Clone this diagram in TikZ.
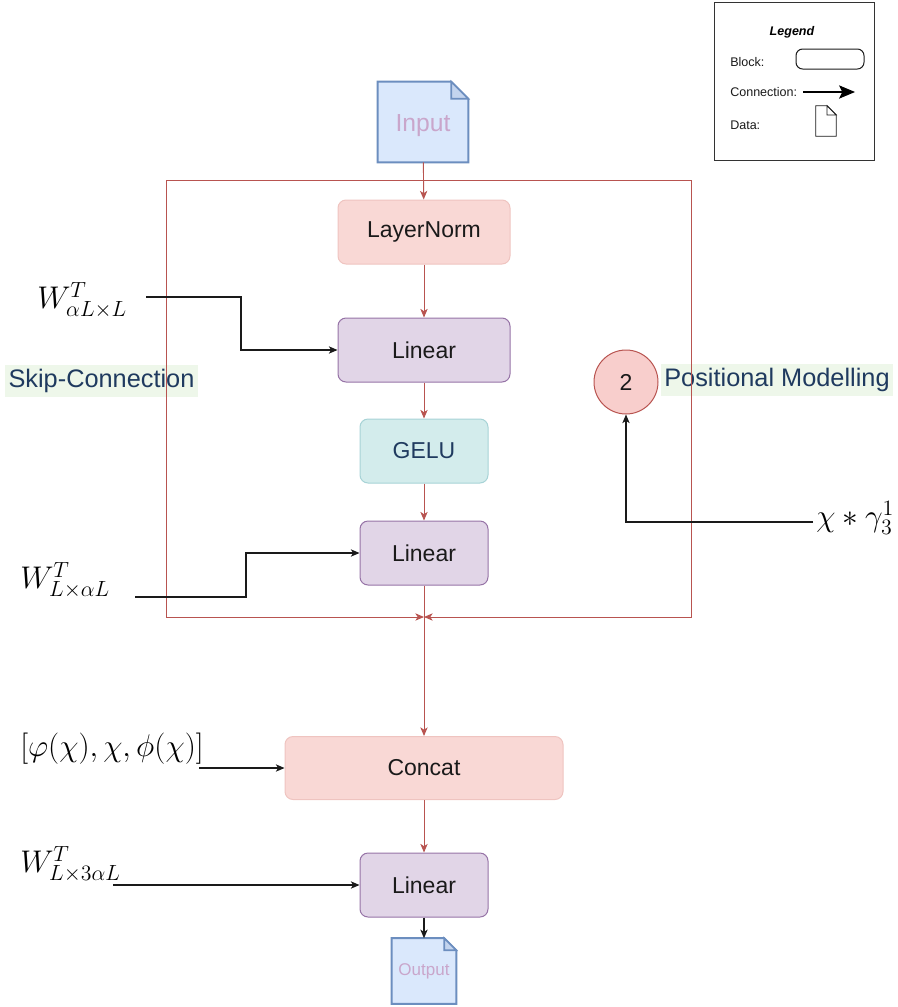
\RequirePackage{fix-cm}
\documentclass[tikz,border=0pt]{standalone}
\usepackage{fontspec}
\setmainfont{Liberation Sans}
\usepackage{tikz}
\usetikzlibrary{arrows.meta,positioning,calc,backgrounds}
\definecolor{ink}{HTML}{1A1A1A}
\definecolor{navy}{HTML}{1F3A5F}
\definecolor{accentred}{HTML}{B85450}
\definecolor{pinkbg}{HTML}{F9D8D5}
\definecolor{pinkline}{HTML}{EFC4C0}
\definecolor{lilacbg}{HTML}{E1D5E7}
\definecolor{lilacline}{HTML}{9673A6}
\definecolor{tealbg}{HTML}{D3ECEC}
\definecolor{tealline}{HTML}{A7D3D6}
\definecolor{docbg}{HTML}{DAE8FC}
\definecolor{docline}{HTML}{6C8EBF}
\definecolor{docfold}{HTML}{C3D4EE}
\definecolor{doctext}{HTML}{C9A6CB}
\definecolor{tagbg}{HTML}{EEF7EA}
\definecolor{circbg}{HTML}{F8CECC}
\definecolor{legline}{HTML}{333333}
\newcommand{\boxfont}{\fontsize{17.25}{20}\selectfont}
\newcommand{\tagfont}{\fontsize{19}{22}\selectfont}
\newcommand{\legfont}{\fontsize{9.4}{11}\selectfont}
\newcommand{\eqfont}{\fontsize{23.5}{28}\selectfont}
% page outline with a folded corner, drawn behind the node
\newcommand{\dogear}[4]{%
  \begin{scope}[on background layer]
    \draw[#3] (#1.north west) -- ([xshift=-#2]#1.north east)
      -- ([yshift=-#2]#1.north east) -- (#1.south east) -- (#1.south west) -- cycle;
    \draw[#4] ([xshift=-#2]#1.north east) -- ([xshift=-#2,yshift=-#2]#1.north east)
      -- ([yshift=-#2]#1.north east) -- cycle;
  \end{scope}}
\tikzset{
  flowbox/.style={rounded corners=6pt,line width=0.75pt,minimum height=48pt,
                  inner sep=0pt,align=center,font=\boxfont,text=ink},
  normbox/.style={flowbox,draw=pinkline,fill=pinkbg},
  linbox/.style={flowbox,draw=lilacline,fill=lilacbg},
  gelubox/.style={flowbox,draw=tealline,fill=tealbg,text=navy},
  pagenode/.style={inner sep=0pt,text=doctext},
  sidetag/.style={fill=tagbg,text=navy,font=\tagfont,inner xsep=2.5pt,
                  minimum height=24pt},
  eqlabel/.style={inner sep=0pt,font=\eqfont,anchor=west},
  legtext/.style={inner sep=0pt,font=\legfont,anchor=west,text=ink},
  redarr/.style={-{Stealth[length=6.5pt,width=5.5pt,inset=1.8pt]},
                 line width=0.7pt,draw=accentred,color=accentred},
  blkarr/.style={-{Stealth[length=6.5pt,width=5.5pt,inset=1.8pt]},
                 line width=0.8pt,draw=ink},
  legarr/.style={-{Stealth[length=12pt,width=10pt,inset=2.5pt]},line width=0.8pt}
}
\begin{document}
\begin{tikzpicture}[x=0.75pt,y=-0.75pt]
  \useasboundingbox (0,0) rectangle (897,1007);
  % legend
  \node[draw=legline,line width=0.75pt,minimum width=120pt,minimum height=119pt]
    (legend) at (794,81.5) {};
  \node[inner sep=0pt,font=\legfont\bfseries\itshape] (legtitle) at (792,32) {Legend};
  \node[legtext] (legblock) at (730,62) {Block:};
  \node[draw=ink,rounded corners=5pt,line width=0.75pt,minimum width=51pt,
        minimum height=15pt] (legbox) at (830,59) {};
  \node[legtext] (legconn) at (730,92) {Connection:};
  \coordinate (legfrom) at (803,92);
  \coordinate (legto) at (855,92);
  \draw[legarr] (legfrom) -- (legto);
  \node[legtext] (legdata) at (730,125) {Data:};
  \node[minimum width=15pt,minimum height=22.5pt,inner sep=0pt] (legpage) at (826,121) {};
  \dogear{legpage}{7pt}{draw=ink,fill=white,line width=0.6pt}{draw=ink,fill=white,line width=0.6pt}
  % data in and out
  \node[pagenode,minimum width=67.5pt,minimum height=60pt,
        label={[pagenode,yshift=-3pt,font=\fontsize{18.5}{22}\selectfont]center:Input}]
    (input) at (423,122) {};
  \dogear{input}{12.75pt}{draw=docline,fill=docbg,line width=1.5pt}{draw=docline,fill=docfold,line width=1.2pt}
  \node[pagenode,minimum width=48pt,minimum height=48.75pt,font=\fontsize{12.75}{15}\selectfont]
    (output) at (424,971) {Output};
  \dogear{output}{9pt}{draw=docline,fill=docbg,line width=1.5pt}{draw=docline,fill=docfold,line width=1.2pt}
  % main column
  \node[normbox,minimum width=129pt] (norm) at (424,232) {LayerNorm};
  \node[linbox,minimum width=129pt] (lin1) at (424,350) {Linear};
  \node[gelubox,minimum width=96pt] (gelu) at (424,451) {GELU};
  \node[linbox,minimum width=96pt] (lin2) at (424,553) {Linear};
  \node[normbox,minimum width=208.5pt,minimum height=47.25pt] (concat) at (424,768) {Concat};
  \node[linbox,minimum width=96pt] (lin3) at (424,885) {Linear};
  \node[circle,draw=accentred,fill=circbg,line width=0.75pt,minimum size=48pt,
        inner sep=0pt,font=\boxfont,text=ink] (pos) at (626,382) {2};
  % side tags
  \node[sidetag] (skiptag) at (101.5,381) {Skip-Connection};
  \node[sidetag] (postag) at (777,380) {Positional Modelling};
  % outer skip frame
  \coordinate (fsplit) at (424,180);
  \coordinate (fmerge) at (424,617);
  \draw[redarr] (fsplit) -| (166,617) -- (fmerge);
  \draw[redarr] (fsplit) -| (691,617) -- (fmerge);
  \draw[redarr] (input) -- (norm);
  \draw[redarr] (norm) -- (lin1);
  \draw[redarr] (lin1) -- (gelu);
  \draw[redarr] (gelu) -- (lin2);
  \draw[redarr] (lin2) -- (concat);
  \draw[redarr] (concat) -- (lin3);
  \draw[blkarr] (lin3) -- (output);
  % weights and side inputs
  \node[eqlabel] (wa) at (37,300) {$W^{T}_{\alpha L\times L}$};
  \node[eqlabel] (wb) at (20,580) {$W^{T}_{L\times\alpha L}$};
  \node[eqlabel] (feat) at (20,749) {$[\varphi(\chi),\chi,\phi(\chi)]$};
  \node[eqlabel] (wc) at (20,864) {$W^{T}_{L\times 3\alpha L}$};
  \node[eqlabel] (chig) at (816,518) {$\chi*\gamma^{1}_{3}$};
  \coordinate (waout) at (146,297);
  \coordinate (wbout) at (135,597);
  \coordinate (featout) at (199,768);
  \coordinate (wcout) at (113,885);
  \coordinate (chiout) at (813,522);
  \draw[blkarr] (waout) -- ++(95,0) |- (lin1.west);
  \draw[blkarr] (wbout) -- ++(111,0) |- (lin2.west);
  \draw[blkarr] (featout) -- (concat.west);
  \draw[blkarr] (wcout) -- (lin3.west);
  \draw[blkarr] (chiout) -| (pos.south);
\end{tikzpicture}
\end{document}
